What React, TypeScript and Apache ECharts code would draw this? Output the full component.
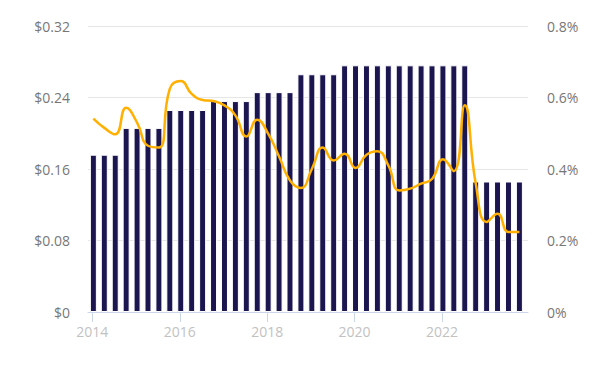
import React, { useEffect, useRef } from "react";
import * as echarts from "echarts";

// Quarterly dividend dates (fractional years)
const dates: number[] = Array.from({ length: 40 }, (_, i) => 2014.023 + i * 0.25);

// Dividend per share ($)
const dividends: number[] = [
  0.176, 0.176, 0.176,
  0.206, 0.206, 0.206, 0.206,
  0.226, 0.226, 0.226, 0.226,
  0.236, 0.236, 0.236, 0.236,
  0.246, 0.246, 0.246, 0.246,
  0.266, 0.266, 0.266, 0.266,
  0.276, 0.276, 0.276, 0.276, 0.276, 0.276, 0.276, 0.276, 0.276, 0.276, 0.276, 0.276,
  0.146, 0.146, 0.146, 0.146, 0.146,
];

// Dividend yield (%)
const yields: number[] = [
  0.541, 0.515, 0.497, 0.571, 0.53, 0.465, 0.46, 0.625, 0.646, 0.61,
  0.593, 0.59, 0.578, 0.55, 0.491, 0.538, 0.499, 0.435, 0.368, 0.347,
  0.4, 0.46, 0.424, 0.443, 0.403, 0.44, 0.45, 0.41, 0.34, 0.345,
  0.359, 0.372, 0.427, 0.394, 0.578, 0.36, 0.252, 0.275, 0.224, 0.224,
];

const yearTicks: number[] = [2014, 2016, 2018, 2020, 2022];

export default function App() {
  const ref = useRef<HTMLDivElement>(null);
  useEffect(() => {
    if (!ref.current) return;
    const chart = echarts.init(ref.current, undefined, { renderer: "svg" });
    const font = "'Open Sans', sans-serif";
    chart.setOption({
      animation: false,
      grid: { left: 88, right: 74, top: 26, bottom: 56 },
      xAxis: {
        type: "value",
        min: 2013.9,
        max: 2023.97,
        axisLine: { show: true, lineStyle: { color: "#ccd6eb", width: 1 } },
        axisTick: {
          show: true,
          length: 10,
          customValues: yearTicks,
          lineStyle: { color: "#ccd6eb" },
        },
        axisLabel: {
          customValues: yearTicks,
          formatter: (v: number) => String(Math.round(v)),
          color: "#c2c2c2",
          fontSize: 14,
          fontFamily: font,
          margin: 12,
        },
        splitLine: { show: false },
      },
      yAxis: [
        {
          type: "value",
          min: 0,
          max: 0.32,
          interval: 0.08,
          axisLine: { show: false },
          axisTick: { show: false },
          axisLabel: {
            formatter: (v: number) => (v === 0 ? "$0" : "$" + v.toFixed(2)),
            color: "#777777",
            fontSize: 14,
            fontFamily: font,
            margin: 18,
          },
          splitLine: { lineStyle: { color: "#e6e6e6", width: 1 } },
        },
        {
          type: "value",
          min: 0,
          max: 0.8,
          interval: 0.2,
          axisLine: { show: false },
          axisTick: { show: false },
          axisLabel: {
            formatter: (v: number) => (v === 0 ? "0%" : v.toFixed(1) + "%"),
            color: "#777777",
            fontSize: 14,
            fontFamily: font,
            margin: 19,
          },
          splitLine: { show: false },
        },
      ],
      series: [
        {
          type: "bar",
          yAxisIndex: 0,
          data: dates.map((d, i) => [d, dividends[i]]),
          barWidth: 7,
          itemStyle: { color: "#1b1650", borderColor: "#ffffff", borderWidth: 1 },
        },
        {
          type: "line",
          yAxisIndex: 1,
          data: dates.map((d, i) => [d, yields[i]]),
          smooth: 0.5,
          showSymbol: false,
          symbol: "none",
          lineStyle: { color: "#ffb000", width: 2.5 },
          z: 5,
        },
      ],
    });
    return () => chart.dispose();
  }, []);
  return (
    <div
      ref={ref}
      style={{ position: "fixed", left: 0, top: 0, width: 602, height: 368, background: "#fff" }}
    />
  );
}
